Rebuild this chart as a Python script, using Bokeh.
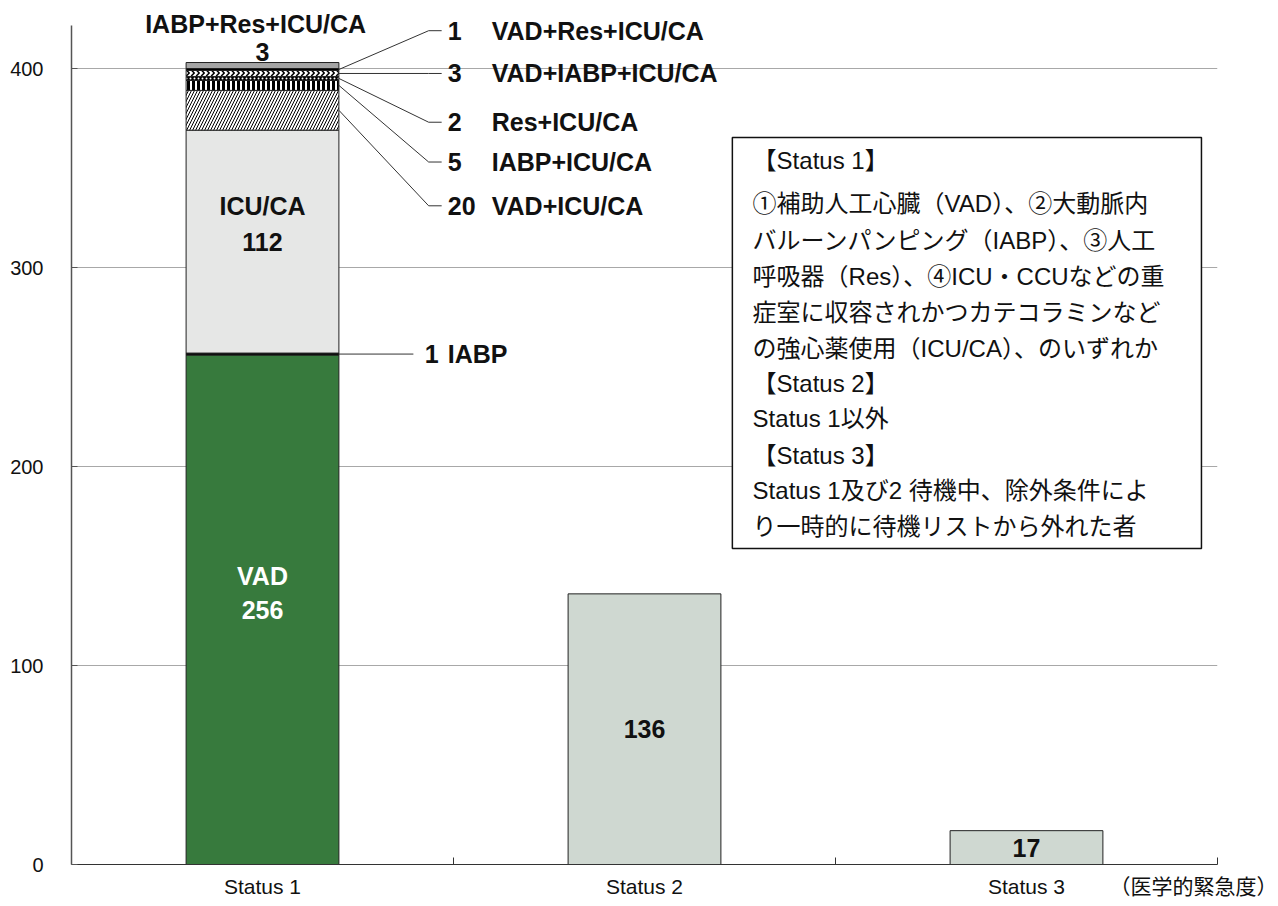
import numpy as np
from bokeh.plotting import figure
from bokeh.models import Range1d, FixedTicker, Label, BoxAnnotation, ColumnDataSource
from bokeh.core.properties import value
from bokeh.embed import file_html
from bokeh.resources import INLINE

# ---------------- data ----------------
categories = ["Status 1", "Status 2", "Status 3"]
s1_names = ["VAD", "IABP", "ICU/CA", "VAD+ICU/CA", "IABP+ICU/CA", "Res+ICU/CA",
            "VAD+IABP+ICU/CA", "VAD+Res+ICU/CA", "IABP+Res+ICU/CA"]
s1_values = [256, 1, 112, 20, 5, 2, 3, 1, 3]
other_values = [136, 17]          # Status 2, Status 3
y_ticks = [0, 100, 200, 300, 400]
axis_note = "（医学的緊急度）"
box_lines = [
    "【Status 1】",
    "①補助人工心臓（VAD）、②大動脈内",
    "バルーンパンピング（IABP）、③人工",
    "呼吸器（Res）、④ICU・CCUなどの重",
    "症室に収容されかつカテコラミンなど",
    "の強心薬使用（ICU/CA）、のいずれか",
    "【Status 2】",
    "Status 1以外",
    "【Status 3】",
    "Status 1及び2 待機中、除外条件によ",
    "り一時的に待機リストから外れた者",
]

# ---------------- styles / layout ----------------
styles = [
    dict(fill_color="#377a3d"),
    dict(fill_color="#000000"),
    dict(fill_color="#e6e7e6"),
    dict(fill_color="white", hatch_pattern="/", hatch_color="black", hatch_scale=6, hatch_weight=1),
    dict(fill_color="white", hatch_pattern="|", hatch_color="black", hatch_scale=5, hatch_weight=3),
    dict(fill_color="black", hatch_pattern=".", hatch_color="white", hatch_scale=4, hatch_weight=1),
    dict(fill_color="white", hatch_pattern=">", hatch_color="black", hatch_scale=5, hatch_weight=1.5),
    dict(fill_color="#000000"),
    dict(fill_color="#a5a5a5"),
]
other_color = "#cfd8d1"
BAR_W = 0.4
SANS = "Liberation Sans, Arial, sans-serif"
NARROW = "Liberation Sans Narrow, Arial Narrow, Liberation Sans, Noto Sans CJK JP, sans-serif"
JP = "Liberation Sans, Noto Sans CJK JP, sans-serif"
PX_PER_UNIT = 1.99
Y_AXIS_TOP = 421.6

p = figure(frame_width=1146, frame_height=864, output_backend="svg", toolbar_location=None,
           x_range=Range1d(0, 3), y_range=Range1d(0, 864 / PX_PER_UNIT),
           min_border_left=71, min_border_right=60, min_border_top=0, min_border_bottom=34)
p.outline_line_color = None
p.background_fill_color = "white"
p.xgrid.grid_line_color = None
p.ygrid.ticker = FixedTicker(ticks=y_ticks)
p.ygrid.grid_line_color = "#a8a8a8"
p.ygrid.grid_line_width = 1

# y axis
p.yaxis.ticker = FixedTicker(ticks=y_ticks)
p.yaxis.bounds = (0, Y_AXIS_TOP)
p.yaxis.axis_line_color = "#555555"
p.yaxis.axis_line_width = 1.5
p.yaxis.major_tick_line_color = "#555555"
p.yaxis.major_tick_in = 6
p.yaxis.major_tick_out = 0
p.yaxis.minor_tick_line_color = None
p.yaxis.major_label_standoff = 28
p.yaxis.major_label_text_font = SANS
p.yaxis.major_label_text_font_size = "20px"
p.yaxis.major_label_text_color = "#111111"

# x axis
centers = [i + 0.5 for i in range(len(categories))]
note_x = 2.966
p.xaxis.ticker = FixedTicker(ticks=centers + [note_x], minor_ticks=[1, 2, 3])
overrides = {c: name for c, name in zip(centers, categories)}
overrides[note_x] = axis_note
p.xaxis.major_label_overrides = overrides
p.xaxis.major_tick_line_color = None
p.xaxis.minor_tick_line_color = "#333333"
p.xaxis.minor_tick_in = 7
p.xaxis.minor_tick_out = 0
p.xaxis.axis_line_color = "#333333"
p.xaxis.major_label_standoff = 4
p.xaxis.major_label_text_font = NARROW
p.xaxis.major_label_text_font_size = "21px"
p.xaxis.major_label_text_color = "#111111"

# ---- Status 1 stacked bar ----
vals = np.array(s1_values, dtype=float)
tops = np.cumsum(vals)
bottoms = tops - vals
mids = (tops + bottoms) / 2
for b, t, st in zip(bottoms, tops, styles):
    p.vbar(x=centers[0], width=BAR_W, bottom=b, top=t, line_color="#222222", line_width=1, **st)

# ---- Status 2, 3 bars ----
src = ColumnDataSource(dict(x=centers[1:], top=other_values,
                            mid=[v / 2 for v in other_values],
                            lab=[str(v) for v in other_values]))
p.vbar(x="x", width=BAR_W, bottom=0, top="top", source=src, fill_color=other_color,
       line_color="#222222", line_width=1)
p.text(x="x", y="mid", text="lab", source=src, text_align="center", text_baseline="middle",
       text_font=value(NARROW), text_font_style="bold", text_font_size="25px", text_color="#111111")

# ---- labels inside Status 1 ----
inside = ColumnDataSource(dict(
    x=[centers[0]] * 4,
    y=[mids[2] + 18, mids[2], mids[0] + 17, mids[0]],
    t=[s1_names[2], str(s1_values[2]), s1_names[0], str(s1_values[0])],
    c=["#111111", "#111111", "white", "white"],
    f=[SANS, NARROW, SANS, NARROW],
))
p.text(x="x", y="y", text="t", text_color="c", text_font="f", source=inside,
       text_align="center", text_baseline="middle", text_font_style="bold", text_font_size="25px")

# ---- leader lines & callouts ----
right_edge = centers[0] + BAR_W / 2
label_y = {7: 419.0, 6: 397.5, 5: 373.0, 4: 353.0, 3: 331.0}
knee_x, end_x, num_x, name_x = 0.935, 0.969, 0.985, 1.100
xs, ys = [], []
for idx, ly in label_y.items():
    xs.append([right_edge, knee_x, end_x])
    ys.append([mids[idx], ly, ly])
    p.add_layout(Label(x=num_x, y=ly, text=str(s1_values[idx]), text_baseline="middle",
                       text_font=NARROW, text_font_style="bold", text_font_size="25px",
                       text_color="#111111"))
    p.add_layout(Label(x=name_x, y=ly, text=s1_names[idx], text_baseline="middle",
                       text_font=SANS, text_font_style="bold", text_font_size="25px",
                       text_color="#111111"))
# IABP (single)
xs.append([right_edge, 0.895])
ys.append([mids[1], mids[1]])
p.multi_line(xs=xs, ys=ys, line_color="#333333", line_width=1)
p.add_layout(Label(x=0.925, y=mids[1], text=str(s1_values[1]), text_baseline="middle",
                   text_font=NARROW, text_font_style="bold", text_font_size="25px", text_color="#111111"))
p.add_layout(Label(x=0.985, y=mids[1], text=s1_names[1], text_baseline="middle",
                   text_font=SANS, text_font_style="bold", text_font_size="25px", text_color="#111111"))
# top segment label
p.add_layout(Label(x=0.482, y=422.5, text=s1_names[8], text_align="center", text_baseline="middle",
                   text_font=SANS, text_font_style="bold", text_font_size="25px", text_color="#111111"))
p.add_layout(Label(x=centers[0], y=tops[8] + 5.5, text=str(s1_values[8]), text_align="center",
                   text_baseline="middle", text_font=NARROW, text_font_style="bold",
                   text_font_size="25px", text_color="#111111"))

# ---- definition box ----
p.add_layout(BoxAnnotation(left=1.730, right=2.958, top=365.3, bottom=158.8,
                           fill_color="white", fill_alpha=1, line_color="#111111",
                           line_alpha=1, line_width=1.5))
box_y = [353.8, 332.2, 313.6, 295.5, 277.4, 259.3, 241.7, 224.1, 205.5, 187.9, 169.8]
for txt, yy in zip(box_lines, box_y):
    p.add_layout(Label(x=1.783, y=yy, text=txt, text_baseline="middle", text_font=JP,
                       text_font_size="24px", text_color="#111111"))

open("out.html", "w").write(file_html(p, INLINE))
